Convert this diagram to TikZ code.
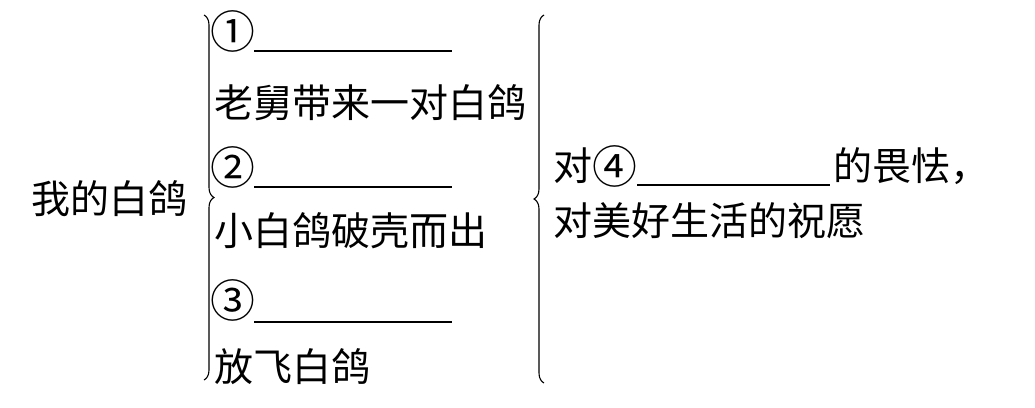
\documentclass[tikz,border=0pt]{standalone}
\usepackage{fontspec}
\newfontfamily\cjk{Noto Sans CJK SC}
\usetikzlibrary{decorations.pathreplacing}
\begin{document}
\begin{tikzpicture}[x=1pt,y=-1pt,
  txt/.style={anchor=west,inner sep=0pt,font=\cjk\fontsize{39}{46}\selectfont},
  num/.style={anchor=center,inner sep=0pt,font=\cjk\fontsize{39}{46}\selectfont},
  blank/.style={line width=1.3pt},
  brc/.style={line width=1.1pt,decorate,decoration={brace,amplitude=10pt,aspect=0.5}}]
\useasboundingbox (0,0) rectangle (1035,407);
\fill[white] (0,0) rectangle (1035,407);
% left title
\node[txt] (title) at (31,199) {我的白鸽};
% left brace
\coordinate (lbt) at (204,15);
\coordinate (lbb) at (204,380);
\draw[brc] (lbt) -- (lbb);
% items
\node[num] (n1) at (233,31) {\scalebox{1.15}{①}};
\coordinate (u1a) at (254,51); \coordinate (u1b) at (452,51);
\draw[blank] (u1a) -- (u1b);
\node[txt] (i1) at (214,103) {老舅带来一对白鸽};
\node[num] (n2) at (233,167) {\scalebox{1.15}{②}};
\coordinate (u2a) at (254,187); \coordinate (u2b) at (452,187);
\draw[blank] (u2a) -- (u2b);
\node[txt] (i2) at (214,231) {小白鸽破壳而出};
\node[num] (n3) at (233,300) {\scalebox{1.15}{③}};
\coordinate (u3a) at (254,322); \coordinate (u3b) at (452,322);
\draw[blank] (u3a) -- (u3b);
\node[txt] (i3) at (214,367) {放飞白鸽};
% right brace
\coordinate (rbt) at (544,15);
\coordinate (rbb) at (544,383);
\draw[brc] (rbb) -- (rbt);
% right text
\node[txt] (r1a) at (553,166) {对};
\node[num] (n4) at (615,166) {\scalebox{1.15}{④}};
\coordinate (u4a) at (637,185); \coordinate (u4b) at (830,185);
\draw[blank] (u4a) -- (u4b);
\node[txt] (r1b) at (833,166) {的畏怯，};
\node[txt] (r2) at (553,221) {对美好生活的祝愿};
\end{tikzpicture}
\end{document}
